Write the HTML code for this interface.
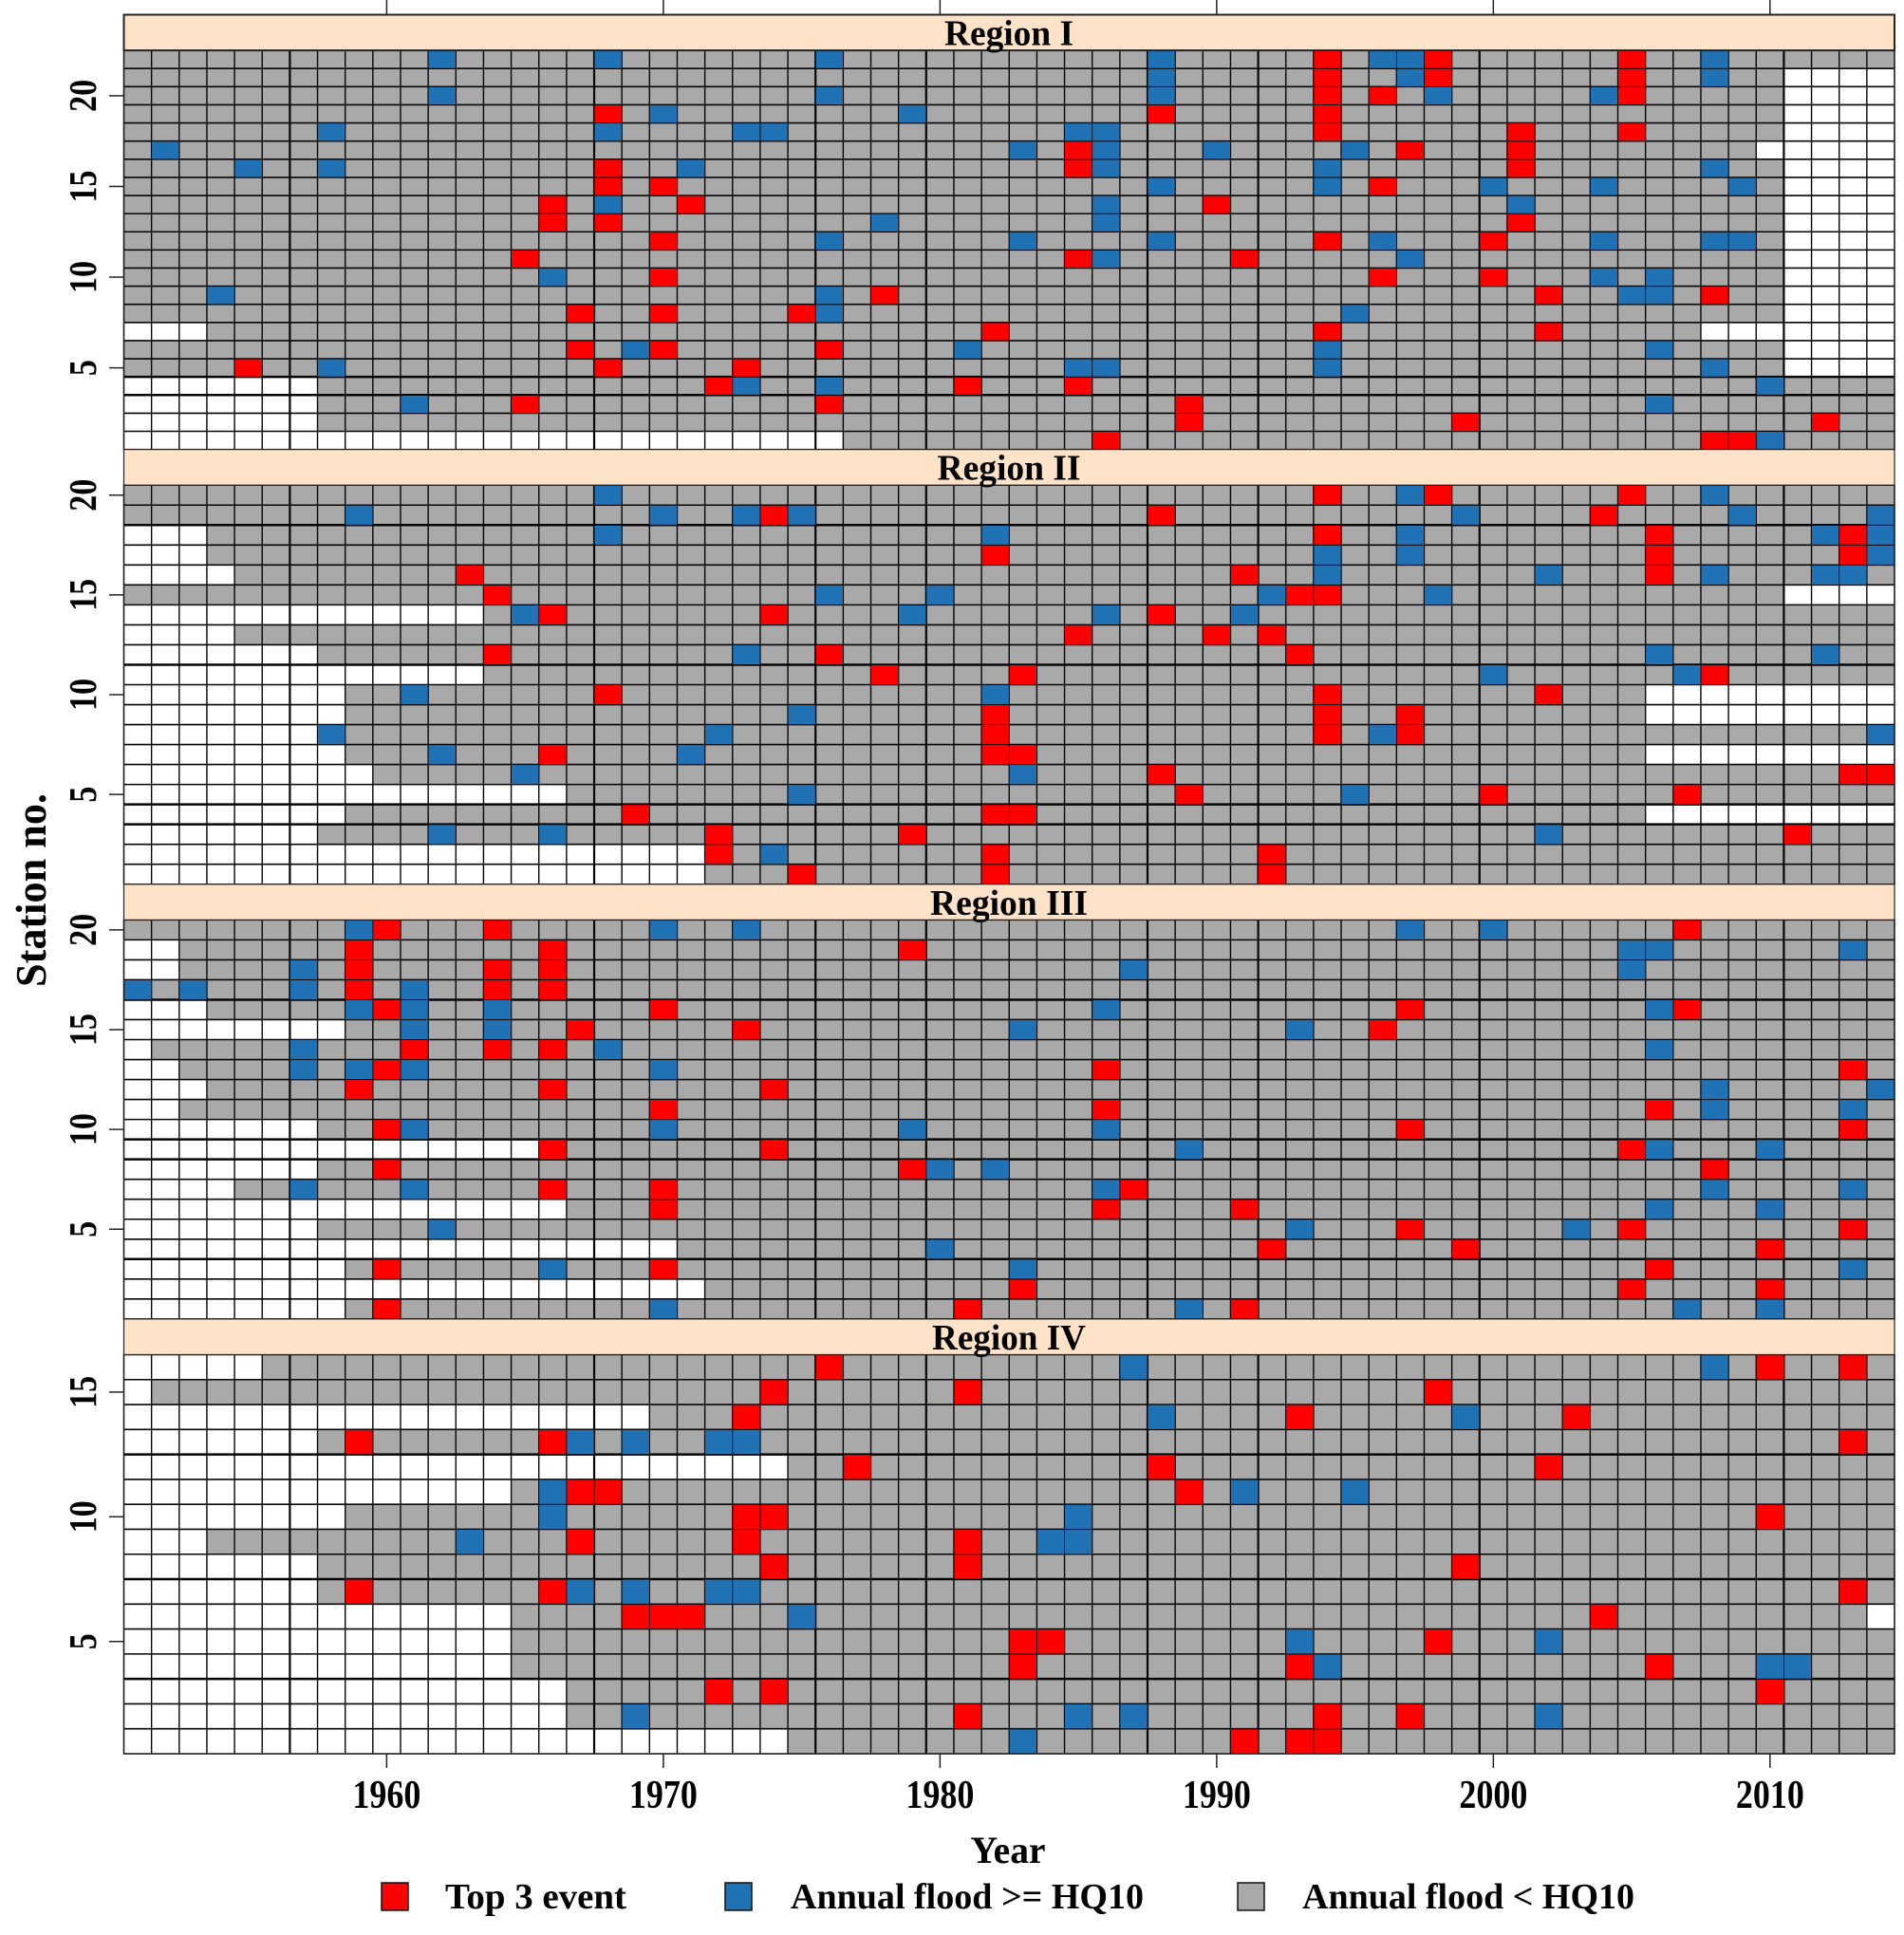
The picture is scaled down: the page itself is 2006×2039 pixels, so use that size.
<!DOCTYPE html>
<html lang="en">
<head>
<meta charset="utf-8">
<title>Annual floods by station and region</title>
<style>
html,body{margin:0;padding:0;background:#fff;}
#chart{display:block;width:2006px;height:2039px;}
text{font-family:"Liberation Serif",serif;font-weight:bold;fill:#000;}
</style>
</head>
<body>
<svg id="chart" xmlns="http://www.w3.org/2000/svg" width="2006" height="2039" viewBox="0 0 2006 2039">
  <rect x="0" y="0" width="2006" height="2039" fill="#fff"/>
  <g id="panels"></g>
  <g id="axes"></g>
  <text x="1062" y="1963" font-size="40" text-anchor="middle" textLength="79" lengthAdjust="spacingAndGlyphs">Year</text>
  <text transform="translate(48,938) rotate(-90)" font-size="46" text-anchor="middle" textLength="204" lengthAdjust="spacingAndGlyphs">Station no.</text>
  <g>
    <g>
      <rect x="402" y="1984" width="28" height="29" fill="#ff0000" stroke="#111" stroke-width="1.5"/>
      <text x="469" y="2011" font-size="38" textLength="191" lengthAdjust="spacingAndGlyphs">Top 3 event</text>
    </g>
    <g>
      <rect x="764" y="1984" width="28" height="29" fill="#2171b5" stroke="#111" stroke-width="1.5"/>
      <text x="833" y="2011" font-size="38" textLength="372" lengthAdjust="spacingAndGlyphs">Annual flood &gt;= HQ10</text>
    </g>
    <g>
      <rect x="1304" y="1984" width="28" height="29" fill="#a9a9a9" stroke="#111" stroke-width="1.5"/>
      <text x="1372" y="2011" font-size="38" textLength="350" lengthAdjust="spacingAndGlyphs">Annual flood &lt; HQ10</text>
    </g>
  </g>
</svg>
<script>
const firstYear = 1951;
const lastYear = 2014;
const yearTicks = [1960, 1970, 1980, 1990, 2000, 2010];
const stationTicks = [5, 10, 15, 20];
const regionNames = ["Region I", "Region II", "Region III", "Region IV"];
const regionStationCounts = [22, 20, 20, 16];

/* Each row: [station, [years]] */
const regionITop3 = [
  [22,[1994,1998,2005]],[21,[1994,1998,2005]],[20,[1994,1996,2005]],[19,[1968,1988,1994]],
  [18,[1994,2001,2005]],[17,[1985,1997,2001]],[16,[1968,1985,2001]],[15,[1968,1970,1996]],
  [14,[1966,1971,1990]],[13,[1966,1968,2001]],[12,[1970,1994,2000]],[11,[1965,1985,1991]],
  [10,[1970,1996,2000]],[9,[1978,2002,2008]],[8,[1967,1970,1975]],[7,[1982,1994,2002]],
  [6,[1967,1970,1976]],[5,[1955,1968,1973]],[4,[1972,1981,1985]],[3,[1965,1976,1989]],
  [2,[1989,1999,2012]],[1,[1986,2008,2009]]
];
const regionIHq10 = [
  [22,[1962,1968,1976,1988,1996,1997,2008]],[21,[1988,1997,2008]],[20,[1962,1976,1988,1998,2004]],
  [19,[1970,1979]],[18,[1958,1968,1973,1974,1985,1986]],[17,[1952,1983,1986,1990,1995]],
  [16,[1955,1958,1971,1986,1994,2008]],[15,[1988,1994,2000,2004,2009]],[14,[1968,1986,2001]],
  [13,[1978,1986]],[12,[1976,1983,1988,1996,2004,2008,2009]],[11,[1986,1997]],
  [10,[1966,2004,2006]],[9,[1954,1976,2005,2006]],[8,[1976,1995]],[6,[1969,1981,1994,2006]],
  [5,[1958,1985,1986,1994,2008]],[4,[1973,1976,2010]],[3,[1961,2006]],[1,[2010]]
];
const regionIMissing = [
  [21,2011,2014],[20,2011,2014],[19,2011,2014],[18,2011,2014],[17,2010,2014],[16,2011,2014],
  [15,2011,2014],[14,2011,2014],[13,2011,2014],[12,2011,2014],[11,2011,2014],[10,2011,2014],
  [9,2011,2014],[8,2011,2014],[7,1951,1953],[7,2008,2014],[6,2011,2014],[5,2011,2014],
  [4,1951,1957],[3,1951,1957],[2,1951,1957],[1,1951,1976]
];

const regionIITop3 = [
  [20,[1994,1998,2005]],[19,[1974,1988,2004]],[18,[1994,2006,2013]],[17,[1982,2006,2013]],
  [16,[1963,1991,2006]],[15,[1964,1993,1994]],[14,[1966,1974,1988]],[13,[1985,1990,1992]],
  [12,[1964,1976,1993]],[11,[1978,1983,2008]],[10,[1968,1994,2002]],[9,[1982,1994,1997]],
  [8,[1982,1994,1997]],[7,[1966,1982,1983]],[6,[1988,2013,2014]],[5,[1989,2000,2007]],
  [4,[1969,1982,1983]],[3,[1972,1979,2011]],[2,[1972,1982,1992]],[1,[1975,1982,1992]]
];
const regionIIHq10 = [
  [20,[1968,1997,2008]],[19,[1959,1970,1973,1975,1999,2009,2014]],[18,[1968,1982,1997,2012,2014]],
  [17,[1994,1997,2014]],[16,[1994,2002,2008,2012,2013]],[15,[1976,1980,1992,1998]],
  [14,[1965,1979,1986,1991]],[12,[1973,2006,2012]],[11,[2000,2007]],[10,[1961,1982]],
  [9,[1975]],[8,[1958,1972,1996,2014]],[7,[1962,1971]],[6,[1965,1983]],[5,[1975,1995]],
  [3,[1962,1966,2002]],[2,[1974]]
];
const regionIIMissing = [
  [18,1951,1953],[17,1951,1953],[16,1951,1954],[15,2011,2014],[14,1951,1963],[13,1951,1954],
  [12,1951,1957],[11,1951,1963],[10,1951,1958],[10,2006,2014],[9,1951,1958],[9,2006,2014],
  [8,1951,1957],[7,1951,1958],[7,2006,2014],[6,1951,1959],[5,1951,1966],[4,1951,1958],
  [4,2006,2014],[3,1951,1957],[2,1951,1971],[1,1951,1971]
];

const regionIIITop3 = [
  [20,[1960,1964,2007]],[19,[1959,1966,1979]],[18,[1959,1964,1966]],[17,[1959,1964,1966]],
  [16,[1960,1970,1997,2007]],[15,[1967,1973,1996]],[14,[1961,1964,1966]],[13,[1960,1986,2013]],
  [12,[1959,1966,1974]],[11,[1970,1986,2006]],[10,[1960,1997,2013]],[9,[1966,1974,2005]],
  [8,[1960,1979,2008]],[7,[1966,1970,1987]],[6,[1970,1986,1991]],[5,[1997,2005,2013]],
  [4,[1992,1999,2010]],[3,[1960,1970,2006]],[2,[1983,2005,2010]],[1,[1960,1981,1991]]
];
const regionIIIHq10 = [
  [20,[1959,1970,1973,1997,2000]],[19,[2005,2006,2013]],[18,[1957,1987,2005]],
  [17,[1951,1953,1957,1961]],[16,[1959,1961,1964,1986,2006]],[15,[1961,1964,1983,1993]],
  [14,[1957,1968,2006]],[13,[1957,1959,1961,1970]],[12,[2008,2014]],[11,[2008,2013]],
  [10,[1961,1970,1979,1986]],[9,[1989,2006,2010]],[8,[1980,1982]],[7,[1957,1961,1986,2008,2013]],
  [6,[2006,2010]],[5,[1962,1993,2003]],[4,[1980]],[3,[1966,1983,2013]],[1,[1970,1989,2007,2010]]
];
const regionIIIMissing = [
  [19,1951,1952],[18,1951,1952],[16,1951,1953],[15,1951,1958],[14,1951,1951],[13,1951,1952],
  [12,1951,1953],[11,1951,1952],[10,1951,1957],[9,1951,1965],[8,1951,1957],[7,1951,1954],
  [6,1951,1966],[5,1951,1957],[4,1951,1970],[3,1951,1958],[2,1951,1971],[1,1951,1958]
];

const regionIVTop3 = [
  [16,[1976,2010,2013]],[15,[1974,1981,1998]],[14,[1973,1993,2003]],[13,[1959,1966,2013]],
  [12,[1977,1988,2002]],[11,[1967,1968,1989]],[10,[1973,1974,2010]],[9,[1967,1973,1981]],
  [8,[1974,1981,1999]],[7,[1959,1966,2013]],[6,[1969,1970,1971,2004]],[5,[1983,1984,1998]],
  [4,[1983,1993,2006]],[3,[1972,1974,2010]],[2,[1981,1994,1997]],[1,[1991,1993,1994]]
];
const regionIVHq10 = [
  [16,[1987,2008]],[14,[1988,1999]],[13,[1967,1969,1972,1973]],[11,[1966,1991,1995]],
  [10,[1966,1985]],[9,[1963,1984,1985]],[7,[1967,1969,1972,1973]],[6,[1975]],
  [5,[1993,2002]],[4,[1994,2010,2011]],[2,[1969,1985,1987,2002]],[1,[1983]]
];
const regionIVMissing = [
  [16,1951,1955],[15,1951,1951],[14,1951,1969],[13,1951,1957],[12,1951,1974],[11,1951,1964],
  [10,1951,1958],[9,1951,1953],[8,1951,1957],[7,1951,1957],[6,1951,1964],[6,2014,2014],
  [5,1951,1964],[4,1951,1964],[3,1951,1966],[2,1951,1966],[1,1951,1974]
];

const regionTop3 = [regionITop3, regionIITop3, regionIIITop3, regionIVTop3];
const regionHq10 = [regionIHq10, regionIIHq10, regionIIIHq10, regionIVHq10];
const regionMissing = [regionIMissing, regionIIMissing, regionIIIMissing, regionIVMissing];

const SVG_NS = "http://www.w3.org/2000/svg";
const plotLeft = 130.5;
const plotRight = 1996;
const plotTop = 15.5;
const plotBottom = 1848;
const stripHeight = 37.6;
const panelHeight = (plotBottom - plotTop) / regionNames.length;
const rowAreaHeight = panelHeight - stripHeight;
const yearWidth = (plotRight - plotLeft) / (lastYear - firstYear + 1);

function xLeft(year) { return plotLeft + (year - firstYear) * yearWidth; }
function xCenter(year) { return xLeft(year) + yearWidth / 2; }
function panelTop(p) { return plotTop + p * panelHeight; }
function rowsTop(p) { return panelTop(p) + stripHeight; }
function rowHeight(p) { return rowAreaHeight / regionStationCounts[p]; }
function yTop(p, station) { return rowsTop(p) + (regionStationCounts[p] - station) * rowHeight(p); }
function yCenter(p, station) { return yTop(p, station) + rowHeight(p) / 2; }

function make(tag, attrs, parent) {
  const el = document.createElementNS(SVG_NS, tag);
  for (const k in attrs) el.setAttribute(k, attrs[k]);
  parent.appendChild(el);
  return el;
}

const panelsRoot = document.getElementById("panels");
const axesRoot = document.getElementById("axes");
const heavyColumns = [6, 17, 25, 29, 37, 41, 49, 60];
const heavyRows = [[18, 19], [2, 9, 16, 17], [4, 11, 12, 17], [4, 9, 13]];

function isMissing(p, station, year) {
  return regionMissing[p].some(function (m) {
    return m[0] === station && year >= m[1] && year <= m[2];
  });
}

regionNames.forEach(function (name, p) {
  const g = make("g", {}, panelsRoot);
  
  

  const n = regionStationCounts[p];
  for (let s = n; s >= 1; s--) {
    for (let y = firstYear; y <= lastYear; y++) {
      const missing = isMissing(p, s, y);
      const cell = make("rect", {
        x: xLeft(y), y: yTop(p, s), width: yearWidth + 0.2, height: rowHeight(p) + 0.2,
        fill: missing ? "#ffffff" : "#a9a9a9"
      }, g);
      
      
    }
  }

  for (let r = 1; r < n; r++) {
    const yy = rowsTop(p) + r * rowHeight(p);
    const line = make("line", {
      x1: plotLeft, x2: plotRight, y1: yy, y2: yy, stroke: "#050505",
      "stroke-width": heavyRows[p].indexOf(r) >= 0 ? 2.5 : 1.6
    }, g);
    
    
  }
  for (let c = 1; c < lastYear - firstYear + 1; c++) {
    const xx = plotLeft + c * yearWidth;
    const line = make("line", {
      x1: xx, x2: xx, y1: rowsTop(p), y2: rowsTop(p) + rowAreaHeight, stroke: "#050505",
      "stroke-width": heavyColumns.indexOf(c) >= 0 ? 2.2 : 1.4
    }, g);
    
    
  }

  regionHq10[p].forEach(function (row) {
    row[1].forEach(function (year) {
      const mark = make("rect", {
        x: xLeft(year) + 0.5, y: yTop(p, row[0]) + 0.6,
        width: yearWidth - 0.9, height: rowHeight(p) - 1, fill: "#2171b5"
      }, g);
      
      
    });
  });
  regionTop3[p].forEach(function (row) {
    row[1].forEach(function (year) {
      const mark = make("rect", {
        x: xLeft(year) + 0.5, y: yTop(p, row[0]) + 0.6,
        width: yearWidth - 0.9, height: rowHeight(p) - 1, fill: "#ff0000"
      }, g);
      
      
    });
  });

  const frame = make("rect", {
    x: plotLeft, y: rowsTop(p), width: plotRight - plotLeft, height: rowAreaHeight,
    fill: "none", stroke: "#111", "stroke-width": 1.5
  }, g);
  
  

  const strip = make("rect", {
    x: plotLeft, y: panelTop(p), width: plotRight - plotLeft, height: stripHeight,
    fill: "#ffe3c9", stroke: "#222", "stroke-width": p === 0 ? 2 : 1.2
  }, g);
  
  

  const stripLabelWidths = [136, 151, 166, 162];
  const label = make("text", {
    x: 1063, y: panelTop(p) + 32, "font-size": 38, "text-anchor": "middle",
    textLength: stripLabelWidths[p], lengthAdjust: "spacingAndGlyphs"
  }, g);
  label.textContent = name;
  
  

  stationTicks.forEach(function (s) {
    if (s > n) return;
    const tick = make("line", {
      x1: 115, x2: plotLeft, y1: yCenter(p, s), y2: yCenter(p, s), stroke: "#222", "stroke-width": 1.5
    }, axesRoot);
    
    
    const tickLabel = make("text", {
      transform: "translate(101," + yCenter(p, s) + ") rotate(-90)",
      "font-size": 41, "text-anchor": "middle",
      textLength: s < 10 ? 17 : 34, lengthAdjust: "spacingAndGlyphs"
    }, axesRoot);
    tickLabel.textContent = String(s);
    
    
  });
});

yearTicks.forEach(function (year) {
  const topTick = make("line", {
    x1: xCenter(year), x2: xCenter(year), y1: 0, y2: plotTop, stroke: "#222", "stroke-width": 1.5
  }, axesRoot);
  
  
  const bottomTick = make("line", {
    x1: xCenter(year), x2: xCenter(year), y1: plotBottom, y2: plotBottom + 15, stroke: "#222", "stroke-width": 1.5
  }, axesRoot);
  
  
  const label = make("text", {
    x: xCenter(year), y: 1905, "font-size": 42, "text-anchor": "middle",
    textLength: 72, lengthAdjust: "spacingAndGlyphs"
  }, axesRoot);
  label.textContent = String(year);
  
  
});
</script>
</body>
</html>
